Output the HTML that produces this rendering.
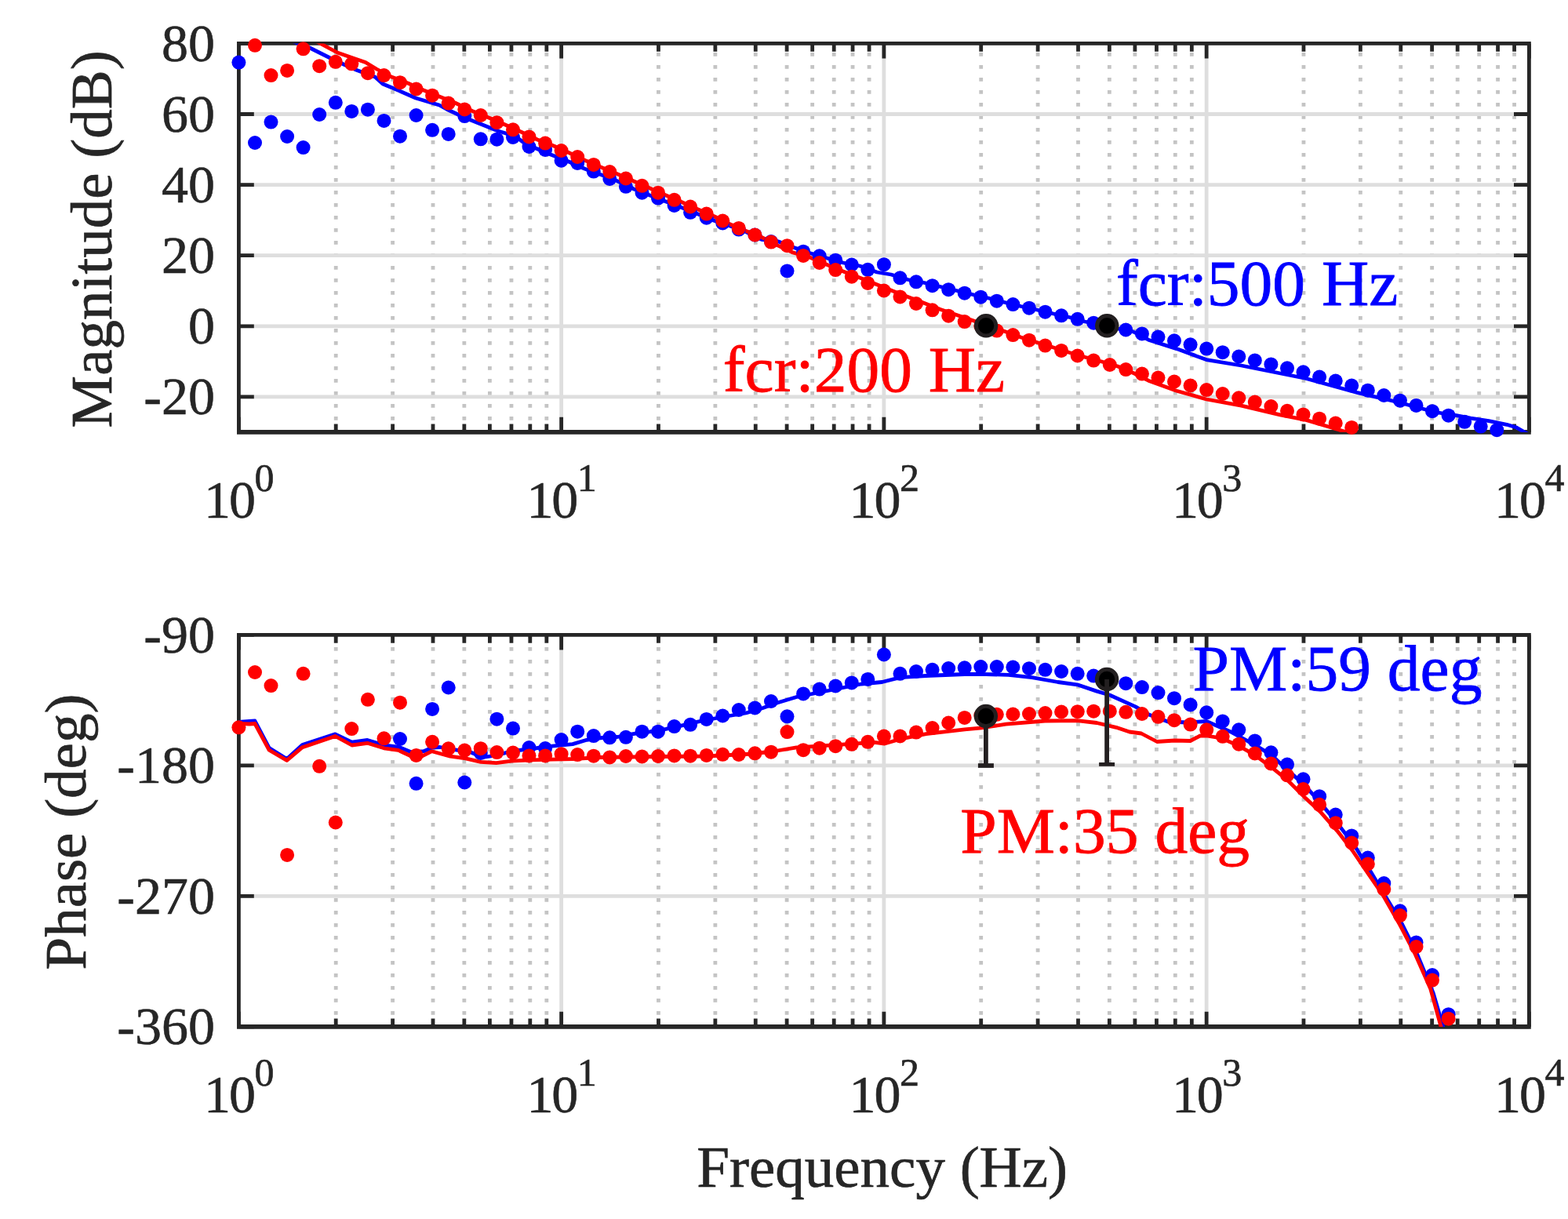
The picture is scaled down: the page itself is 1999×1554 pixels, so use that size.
<!DOCTYPE html>
<html><head><meta charset="utf-8"><title>Bode plot</title>
<style>html,body{margin:0;padding:0;background:#fff;width:1999px;height:1554px;overflow:hidden}</style>
</head><body>
<svg width="1999" height="1554" viewBox="0 0 1999 1554" style="display:block">
<rect width="1999" height="1554" fill="#fff"/>
<defs>
<clipPath id="c0"><rect x="304.4" y="55.4" width="1645.0" height="495.5"/></clipPath>
<clipPath id="c1"><rect x="304.4" y="809.4" width="1645.0" height="499.5000000000001"/></clipPath>
</defs>
<path d="M428.20 551.80V55.40M500.62 551.80V55.40M552.00 551.80V55.40M591.85 551.80V55.40M624.41 551.80V55.40M651.95 551.80V55.40M675.80 551.80V55.40M696.83 551.80V55.40M839.45 551.80V55.40M911.87 551.80V55.40M963.25 551.80V55.40M1003.10 551.80V55.40M1035.66 551.80V55.40M1063.20 551.80V55.40M1087.05 551.80V55.40M1108.08 551.80V55.40M1250.70 551.80V55.40M1323.12 551.80V55.40M1374.50 551.80V55.40M1414.35 551.80V55.40M1446.91 551.80V55.40M1474.45 551.80V55.40M1498.30 551.80V55.40M1519.33 551.80V55.40M1661.95 551.80V55.40M1734.37 551.80V55.40M1785.75 551.80V55.40M1825.60 551.80V55.40M1858.16 551.80V55.40M1885.70 551.80V55.40M1909.55 551.80V55.40M1930.58 551.80V55.40" stroke="#c4c4c4" stroke-width="4.8" stroke-dasharray="4.8 11.2" fill="none"/>
<path d="M715.65 55.40V550.90M1126.90 55.40V550.90M1538.15 55.40V550.90M304.40 145.50H1949.40M304.40 235.60H1949.40M304.40 325.70H1949.40M304.40 415.80H1949.40M304.40 505.90H1949.40" stroke="#dedede" stroke-width="4.8" fill="none"/>
<path d="M304.40 550.90v-19.2M304.40 55.40v19.2M715.65 550.90v-19.2M715.65 55.40v19.2M1126.90 550.90v-19.2M1126.90 55.40v19.2M1538.15 550.90v-19.2M1538.15 55.40v19.2M1949.40 550.90v-19.2M1949.40 55.40v19.2M428.20 550.90v-10.4M428.20 55.40v10.4M500.62 550.90v-10.4M500.62 55.40v10.4M552.00 550.90v-10.4M552.00 55.40v10.4M591.85 550.90v-10.4M591.85 55.40v10.4M624.41 550.90v-10.4M624.41 55.40v10.4M651.95 550.90v-10.4M651.95 55.40v10.4M675.80 550.90v-10.4M675.80 55.40v10.4M696.83 550.90v-10.4M696.83 55.40v10.4M839.45 550.90v-10.4M839.45 55.40v10.4M911.87 550.90v-10.4M911.87 55.40v10.4M963.25 550.90v-10.4M963.25 55.40v10.4M1003.10 550.90v-10.4M1003.10 55.40v10.4M1035.66 550.90v-10.4M1035.66 55.40v10.4M1063.20 550.90v-10.4M1063.20 55.40v10.4M1087.05 550.90v-10.4M1087.05 55.40v10.4M1108.08 550.90v-10.4M1108.08 55.40v10.4M1250.70 550.90v-10.4M1250.70 55.40v10.4M1323.12 550.90v-10.4M1323.12 55.40v10.4M1374.50 550.90v-10.4M1374.50 55.40v10.4M1414.35 550.90v-10.4M1414.35 55.40v10.4M1446.91 550.90v-10.4M1446.91 55.40v10.4M1474.45 550.90v-10.4M1474.45 55.40v10.4M1498.30 550.90v-10.4M1498.30 55.40v10.4M1519.33 550.90v-10.4M1519.33 55.40v10.4M1661.95 550.90v-10.4M1661.95 55.40v10.4M1734.37 550.90v-10.4M1734.37 55.40v10.4M1785.75 550.90v-10.4M1785.75 55.40v10.4M1825.60 550.90v-10.4M1825.60 55.40v10.4M1858.16 550.90v-10.4M1858.16 55.40v10.4M1885.70 550.90v-10.4M1885.70 55.40v10.4M1909.55 550.90v-10.4M1909.55 55.40v10.4M1930.58 550.90v-10.4M1930.58 55.40v10.4M304.40 55.40h19.4M1949.40 55.40h-19.4M304.40 145.50h19.4M1949.40 145.50h-19.4M304.40 235.60h19.4M1949.40 235.60h-19.4M304.40 325.70h19.4M1949.40 325.70h-19.4M304.40 415.80h19.4M1949.40 415.80h-19.4M304.40 505.90h19.4M1949.40 505.90h-19.4" stroke="#262626" stroke-width="4.8" fill="none"/>
<path d="M302.00 55.40H1951.80M304.40 55.40V550.90M1949.40 55.40V550.90" stroke="#262626" stroke-width="4.8" fill="none"/>
<path d="M302.00 550.90H1951.80" stroke="#262626" stroke-width="5.8" fill="none"/>
<text x="274" y="77.7" text-anchor="end" font-family="'Liberation Serif',serif" font-size="68" fill="#262626" stroke="#262626" stroke-width="0.6">80</text>
<text x="274" y="167.8" text-anchor="end" font-family="'Liberation Serif',serif" font-size="68" fill="#262626" stroke="#262626" stroke-width="0.6">60</text>
<text x="274" y="257.9" text-anchor="end" font-family="'Liberation Serif',serif" font-size="68" fill="#262626" stroke="#262626" stroke-width="0.6">40</text>
<text x="274" y="348.0" text-anchor="end" font-family="'Liberation Serif',serif" font-size="68" fill="#262626" stroke="#262626" stroke-width="0.6">20</text>
<text x="274" y="438.1" text-anchor="end" font-family="'Liberation Serif',serif" font-size="68" fill="#262626" stroke="#262626" stroke-width="0.6">0</text>
<text x="274" y="528.2" text-anchor="end" font-family="'Liberation Serif',serif" font-size="68" fill="#262626" stroke="#262626" stroke-width="0.6">-20</text>
<text x="260.1" y="659.7" font-family="'Liberation Serif',serif" font-size="68" fill="#262626" stroke="#262626" stroke-width="0.6">1<tspan dx="-2.2">0</tspan><tspan dx="-1.4" dy="-33.9" font-size="50">0</tspan></text>
<text x="671.4" y="659.7" font-family="'Liberation Serif',serif" font-size="68" fill="#262626" stroke="#262626" stroke-width="0.6">1<tspan dx="-2.2">0</tspan><tspan dx="-1.4" dy="-33.9" font-size="50">1</tspan></text>
<text x="1082.6" y="659.7" font-family="'Liberation Serif',serif" font-size="68" fill="#262626" stroke="#262626" stroke-width="0.6">1<tspan dx="-2.2">0</tspan><tspan dx="-1.4" dy="-33.9" font-size="50">2</tspan></text>
<text x="1493.9" y="659.7" font-family="'Liberation Serif',serif" font-size="68" fill="#262626" stroke="#262626" stroke-width="0.6">1<tspan dx="-2.2">0</tspan><tspan dx="-1.4" dy="-33.9" font-size="50">3</tspan></text>
<text x="1905.1" y="659.7" font-family="'Liberation Serif',serif" font-size="68" fill="#262626" stroke="#262626" stroke-width="0.6">1<tspan dx="-2.2">0</tspan><tspan dx="-1.4" dy="-33.9" font-size="50">4</tspan></text>
<path d="M428.20 1309.80V809.40M500.62 1309.80V809.40M552.00 1309.80V809.40M591.85 1309.80V809.40M624.41 1309.80V809.40M651.95 1309.80V809.40M675.80 1309.80V809.40M696.83 1309.80V809.40M839.45 1309.80V809.40M911.87 1309.80V809.40M963.25 1309.80V809.40M1003.10 1309.80V809.40M1035.66 1309.80V809.40M1063.20 1309.80V809.40M1087.05 1309.80V809.40M1108.08 1309.80V809.40M1250.70 1309.80V809.40M1323.12 1309.80V809.40M1374.50 1309.80V809.40M1414.35 1309.80V809.40M1446.91 1309.80V809.40M1474.45 1309.80V809.40M1498.30 1309.80V809.40M1519.33 1309.80V809.40M1661.95 1309.80V809.40M1734.37 1309.80V809.40M1785.75 1309.80V809.40M1825.60 1309.80V809.40M1858.16 1309.80V809.40M1885.70 1309.80V809.40M1909.55 1309.80V809.40M1930.58 1309.80V809.40" stroke="#c4c4c4" stroke-width="4.8" stroke-dasharray="4.8 11.2" fill="none"/>
<path d="M715.65 809.40V1308.90M1126.90 809.40V1308.90M1538.15 809.40V1308.90M304.40 975.90H1949.40M304.40 1142.40H1949.40" stroke="#dedede" stroke-width="4.8" fill="none"/>
<path d="M304.40 1308.90v-19.2M304.40 809.40v19.2M715.65 1308.90v-19.2M715.65 809.40v19.2M1126.90 1308.90v-19.2M1126.90 809.40v19.2M1538.15 1308.90v-19.2M1538.15 809.40v19.2M1949.40 1308.90v-19.2M1949.40 809.40v19.2M428.20 1308.90v-10.4M428.20 809.40v10.4M500.62 1308.90v-10.4M500.62 809.40v10.4M552.00 1308.90v-10.4M552.00 809.40v10.4M591.85 1308.90v-10.4M591.85 809.40v10.4M624.41 1308.90v-10.4M624.41 809.40v10.4M651.95 1308.90v-10.4M651.95 809.40v10.4M675.80 1308.90v-10.4M675.80 809.40v10.4M696.83 1308.90v-10.4M696.83 809.40v10.4M839.45 1308.90v-10.4M839.45 809.40v10.4M911.87 1308.90v-10.4M911.87 809.40v10.4M963.25 1308.90v-10.4M963.25 809.40v10.4M1003.10 1308.90v-10.4M1003.10 809.40v10.4M1035.66 1308.90v-10.4M1035.66 809.40v10.4M1063.20 1308.90v-10.4M1063.20 809.40v10.4M1087.05 1308.90v-10.4M1087.05 809.40v10.4M1108.08 1308.90v-10.4M1108.08 809.40v10.4M1250.70 1308.90v-10.4M1250.70 809.40v10.4M1323.12 1308.90v-10.4M1323.12 809.40v10.4M1374.50 1308.90v-10.4M1374.50 809.40v10.4M1414.35 1308.90v-10.4M1414.35 809.40v10.4M1446.91 1308.90v-10.4M1446.91 809.40v10.4M1474.45 1308.90v-10.4M1474.45 809.40v10.4M1498.30 1308.90v-10.4M1498.30 809.40v10.4M1519.33 1308.90v-10.4M1519.33 809.40v10.4M1661.95 1308.90v-10.4M1661.95 809.40v10.4M1734.37 1308.90v-10.4M1734.37 809.40v10.4M1785.75 1308.90v-10.4M1785.75 809.40v10.4M1825.60 1308.90v-10.4M1825.60 809.40v10.4M1858.16 1308.90v-10.4M1858.16 809.40v10.4M1885.70 1308.90v-10.4M1885.70 809.40v10.4M1909.55 1308.90v-10.4M1909.55 809.40v10.4M1930.58 1308.90v-10.4M1930.58 809.40v10.4M304.40 809.40h19.4M1949.40 809.40h-19.4M304.40 975.90h19.4M1949.40 975.90h-19.4M304.40 1142.40h19.4M1949.40 1142.40h-19.4M304.40 1308.90h19.4M1949.40 1308.90h-19.4" stroke="#262626" stroke-width="4.8" fill="none"/>
<path d="M302.00 809.40H1951.80M304.40 809.40V1308.90M1949.40 809.40V1308.90" stroke="#262626" stroke-width="4.8" fill="none"/>
<path d="M302.00 1308.90H1951.80" stroke="#262626" stroke-width="5.8" fill="none"/>
<text x="274" y="831.7" text-anchor="end" font-family="'Liberation Serif',serif" font-size="68" fill="#262626" stroke="#262626" stroke-width="0.6">-90</text>
<text x="274" y="998.2" text-anchor="end" font-family="'Liberation Serif',serif" font-size="68" fill="#262626" stroke="#262626" stroke-width="0.6">-180</text>
<text x="274" y="1164.7" text-anchor="end" font-family="'Liberation Serif',serif" font-size="68" fill="#262626" stroke="#262626" stroke-width="0.6">-270</text>
<text x="274" y="1331.2" text-anchor="end" font-family="'Liberation Serif',serif" font-size="68" fill="#262626" stroke="#262626" stroke-width="0.6">-360</text>
<text x="260.1" y="1417.7" font-family="'Liberation Serif',serif" font-size="68" fill="#262626" stroke="#262626" stroke-width="0.6">1<tspan dx="-2.2">0</tspan><tspan dx="-1.4" dy="-33.9" font-size="50">0</tspan></text>
<text x="671.4" y="1417.7" font-family="'Liberation Serif',serif" font-size="68" fill="#262626" stroke="#262626" stroke-width="0.6">1<tspan dx="-2.2">0</tspan><tspan dx="-1.4" dy="-33.9" font-size="50">1</tspan></text>
<text x="1082.6" y="1417.7" font-family="'Liberation Serif',serif" font-size="68" fill="#262626" stroke="#262626" stroke-width="0.6">1<tspan dx="-2.2">0</tspan><tspan dx="-1.4" dy="-33.9" font-size="50">2</tspan></text>
<text x="1493.9" y="1417.7" font-family="'Liberation Serif',serif" font-size="68" fill="#262626" stroke="#262626" stroke-width="0.6">1<tspan dx="-2.2">0</tspan><tspan dx="-1.4" dy="-33.9" font-size="50">3</tspan></text>
<text x="1905.1" y="1417.7" font-family="'Liberation Serif',serif" font-size="68" fill="#262626" stroke="#262626" stroke-width="0.6">1<tspan dx="-2.2">0</tspan><tspan dx="-1.4" dy="-33.9" font-size="50">4</tspan></text>
<g clip-path="url(#c0)" fill="none" stroke-linejoin="round" stroke-width="4.8">
<polyline points="340.0,40.0 378.0,54.5 395.0,61.0 420.0,73.5 438.0,82.0 455.0,89.5 478.0,98.0 488.0,107.0 505.0,114.0 530.0,125.0 560.0,134.0 570.0,139.5 584.0,146.0 600.0,153.0 620.0,161.0 635.0,167.0 645.0,170.0 660.0,176.0 668.0,182.0 683.0,189.0 702.0,197.0 725.0,206.0 745.0,215.0 767.0,223.0 787.5,231.0 808.0,241.0 828.5,249.0 849.0,257.0 870.0,265.0 890.0,273.0 911.0,281.5 932.0,288.5 952.0,296.0 971.0,305.4 992.0,307.8 1012.0,315.5 1033.0,322.8 1054.0,329.0 1075.0,335.0 1096.0,339.0 1118.0,347.0 1136.0,350.0 1157.5,356.5 1178.5,360.5 1199.0,365.5 1219.6,370.5 1240.0,375.5 1260.0,380.0 1281.0,385.5 1301.5,390.5 1322.0,395.0 1343.0,400.0 1363.5,404.5 1383.0,410.0 1404.0,414.0 1425.0,419.0 1445.0,423.0 1464.1,433.2 1500.0,444.6 1538.0,458.6 1582.5,466.0 1665.0,482.5 1731.0,500.7 1780.6,512.3 1830.0,525.5 1856.7,529.7 1875.0,533.2 1898.0,536.7 1921.0,541.3 1932.6,544.7 1943.0,550.5 1960.0,560.0" stroke="#0000ff"/>
<polyline points="385.0,43.0 405.6,54.0 430.0,67.0 450.0,74.0 466.0,79.5 480.0,88.0 499.0,98.0 520.0,106.0 540.0,115.0 560.0,123.0 580.0,131.0 602.0,141.5 623.0,150.0 644.0,159.0 664.0,168.0 685.0,178.0 706.0,186.0 726.0,195.0 746.0,204.5 767.0,213.5 787.5,222.0 808.0,231.0 828.5,240.0 849.0,249.0 870.0,258.0 890.0,267.0 911.0,276.0 930.0,285.5 950.0,294.0 971.0,302.4 992.0,313.2 1010.0,321.6 1032.8,328.2 1053.8,337.2 1075.0,346.0 1096.0,354.0 1116.0,362.0 1137.0,370.5 1157.5,378.5 1178.5,386.5 1199.0,394.5 1219.6,401.5 1240.0,408.5 1260.0,415.5 1281.0,422.5 1301.5,430.0 1322.0,436.5 1343.0,443.0 1363.5,449.5 1384.0,455.5 1404.6,461.0 1425.0,467.0 1446.0,476.0 1464.1,485.2 1500.0,498.2 1538.0,509.0 1582.5,517.2 1632.0,528.8 1665.0,535.4 1698.0,545.3 1714.6,550.2 1735.0,558.0" stroke="#ff0000"/>
</g>
<g fill="#0000ff"><circle cx="304.4" cy="79.6" r="9.0"/><circle cx="325.0" cy="182.0" r="9.0"/><circle cx="345.5" cy="155.6" r="9.0"/><circle cx="366.1" cy="174.0" r="9.0"/><circle cx="386.6" cy="188.1" r="9.0"/><circle cx="407.2" cy="146.0" r="9.0"/><circle cx="427.8" cy="130.8" r="9.0"/><circle cx="448.3" cy="141.9" r="9.0"/><circle cx="468.9" cy="139.7" r="9.0"/><circle cx="489.5" cy="153.9" r="9.0"/><circle cx="510.0" cy="173.7" r="9.0"/><circle cx="530.6" cy="147.0" r="9.0"/><circle cx="551.1" cy="165.8" r="9.0"/><circle cx="571.7" cy="170.9" r="9.0"/><circle cx="592.3" cy="148.1" r="9.0"/><circle cx="612.8" cy="177.3" r="9.0"/><circle cx="633.4" cy="177.7" r="9.0"/><circle cx="654.0" cy="175.0" r="9.0"/><circle cx="674.5" cy="187.0" r="9.0"/><circle cx="695.1" cy="191.0" r="9.0"/><circle cx="715.6" cy="204.7" r="9.0"/><circle cx="736.2" cy="208.0" r="9.0"/><circle cx="756.8" cy="218.6" r="9.0"/><circle cx="777.3" cy="227.9" r="9.0"/><circle cx="797.9" cy="237.8" r="9.0"/><circle cx="818.5" cy="245.7" r="9.0"/><circle cx="839.0" cy="252.6" r="9.0"/><circle cx="859.6" cy="262.0" r="9.0"/><circle cx="880.1" cy="270.8" r="9.0"/><circle cx="900.7" cy="277.7" r="9.0"/><circle cx="921.3" cy="284.5" r="9.0"/><circle cx="941.8" cy="292.6" r="9.0"/><circle cx="962.4" cy="299.5" r="9.0"/><circle cx="983.0" cy="308.1" r="9.0"/><circle cx="1003.5" cy="345.4" r="9.0"/><circle cx="1024.1" cy="320.7" r="9.0"/><circle cx="1044.7" cy="326.3" r="9.0"/><circle cx="1065.2" cy="331.7" r="9.0"/><circle cx="1085.8" cy="337.5" r="9.0"/><circle cx="1106.3" cy="343.8" r="9.0"/><circle cx="1126.9" cy="337.2" r="9.0"/><circle cx="1147.5" cy="354.3" r="9.0"/><circle cx="1168.0" cy="359.3" r="9.0"/><circle cx="1188.6" cy="364.2" r="9.0"/><circle cx="1209.2" cy="369.2" r="9.0"/><circle cx="1229.7" cy="373.7" r="9.0"/><circle cx="1250.3" cy="378.7" r="9.0"/><circle cx="1270.8" cy="383.7" r="9.0"/><circle cx="1291.4" cy="388.1" r="9.0"/><circle cx="1312.0" cy="392.7" r="9.0"/><circle cx="1332.5" cy="397.7" r="9.0"/><circle cx="1353.1" cy="402.3" r="9.0"/><circle cx="1373.7" cy="406.8" r="9.0"/><circle cx="1394.2" cy="411.7" r="9.0"/><circle cx="1414.8" cy="416.0" r="9.0"/><circle cx="1435.3" cy="420.5" r="9.0"/><circle cx="1455.9" cy="425.4" r="9.0"/><circle cx="1476.5" cy="429.5" r="9.0"/><circle cx="1497.0" cy="434.3" r="9.0"/><circle cx="1517.6" cy="439.3" r="9.0"/><circle cx="1538.2" cy="444.6" r="9.0"/><circle cx="1558.7" cy="449.2" r="9.0"/><circle cx="1579.3" cy="454.5" r="9.0"/><circle cx="1599.8" cy="459.4" r="9.0"/><circle cx="1620.4" cy="464.4" r="9.0"/><circle cx="1641.0" cy="469.3" r="9.0"/><circle cx="1661.5" cy="474.3" r="9.0"/><circle cx="1682.1" cy="480.6" r="9.0"/><circle cx="1702.7" cy="485.5" r="9.0"/><circle cx="1723.2" cy="491.6" r="9.0"/><circle cx="1743.8" cy="497.7" r="9.0"/><circle cx="1764.3" cy="504.0" r="9.0"/><circle cx="1784.9" cy="510.7" r="9.0"/><circle cx="1805.5" cy="516.9" r="9.0"/><circle cx="1826.0" cy="524.2" r="9.0"/><circle cx="1846.6" cy="529.7" r="9.0"/><circle cx="1867.2" cy="537.8" r="9.0"/><circle cx="1887.7" cy="543.6" r="9.0"/><circle cx="1908.3" cy="548.2" r="9.0"/></g>
<g fill="#ff0000"><circle cx="325.0" cy="57.8" r="9.0"/><circle cx="345.5" cy="96.1" r="9.0"/><circle cx="366.1" cy="89.9" r="9.0"/><circle cx="386.6" cy="62.3" r="9.0"/><circle cx="407.2" cy="84.2" r="9.0"/><circle cx="427.8" cy="78.8" r="9.0"/><circle cx="448.3" cy="81.3" r="9.0"/><circle cx="468.9" cy="93.2" r="9.0"/><circle cx="489.5" cy="96.1" r="9.0"/><circle cx="510.0" cy="105.2" r="9.0"/><circle cx="530.6" cy="113.5" r="9.0"/><circle cx="551.1" cy="121.7" r="9.0"/><circle cx="571.7" cy="131.6" r="9.0"/><circle cx="592.3" cy="139.5" r="9.0"/><circle cx="612.8" cy="147.0" r="9.0"/><circle cx="633.4" cy="156.2" r="9.0"/><circle cx="654.0" cy="165.3" r="9.0"/><circle cx="674.5" cy="174.4" r="9.0"/><circle cx="695.1" cy="182.6" r="9.0"/><circle cx="715.6" cy="192.0" r="9.0"/><circle cx="736.2" cy="200.0" r="9.0"/><circle cx="756.8" cy="209.9" r="9.0"/><circle cx="777.3" cy="219.0" r="9.0"/><circle cx="797.9" cy="227.5" r="9.0"/><circle cx="818.5" cy="236.8" r="9.0"/><circle cx="839.0" cy="245.7" r="9.0"/><circle cx="859.6" cy="254.8" r="9.0"/><circle cx="880.1" cy="263.5" r="9.0"/><circle cx="900.7" cy="272.6" r="9.0"/><circle cx="921.3" cy="281.5" r="9.0"/><circle cx="941.8" cy="290.9" r="9.0"/><circle cx="962.4" cy="299.5" r="9.0"/><circle cx="983.0" cy="308.6" r="9.0"/><circle cx="1003.5" cy="313.2" r="9.0"/><circle cx="1024.1" cy="325.9" r="9.0"/><circle cx="1044.7" cy="335.0" r="9.0"/><circle cx="1065.2" cy="344.1" r="9.0"/><circle cx="1085.8" cy="352.7" r="9.0"/><circle cx="1106.3" cy="360.9" r="9.0"/><circle cx="1126.9" cy="370.5" r="9.0"/><circle cx="1147.5" cy="378.4" r="9.0"/><circle cx="1168.0" cy="387.0" r="9.0"/><circle cx="1188.6" cy="395.3" r="9.0"/><circle cx="1209.2" cy="402.7" r="9.0"/><circle cx="1229.7" cy="410.1" r="9.0"/><circle cx="1250.3" cy="415.5" r="9.0"/><circle cx="1270.8" cy="421.6" r="9.0"/><circle cx="1291.4" cy="427.1" r="9.0"/><circle cx="1312.0" cy="433.7" r="9.0"/><circle cx="1332.5" cy="440.6" r="9.0"/><circle cx="1353.1" cy="446.9" r="9.0"/><circle cx="1373.7" cy="453.5" r="9.0"/><circle cx="1394.2" cy="459.6" r="9.0"/><circle cx="1414.8" cy="465.0" r="9.0"/><circle cx="1435.3" cy="471.1" r="9.0"/><circle cx="1455.9" cy="476.6" r="9.0"/><circle cx="1476.5" cy="481.5" r="9.0"/><circle cx="1497.0" cy="486.5" r="9.0"/><circle cx="1517.6" cy="491.5" r="9.0"/><circle cx="1538.2" cy="497.1" r="9.0"/><circle cx="1558.7" cy="502.0" r="9.0"/><circle cx="1579.3" cy="507.3" r="9.0"/><circle cx="1599.8" cy="512.6" r="9.0"/><circle cx="1620.4" cy="518.0" r="9.0"/><circle cx="1641.0" cy="523.8" r="9.0"/><circle cx="1661.5" cy="528.4" r="9.0"/><circle cx="1682.1" cy="533.7" r="9.0"/><circle cx="1702.7" cy="539.5" r="9.0"/><circle cx="1723.2" cy="544.9" r="9.0"/></g>
<g clip-path="url(#c1)" fill="none" stroke-linejoin="round" stroke-width="4.8">
<polyline points="304.4,920.5 318.0,919.5 325.0,919.0 343.2,953.5 365.7,967.5 385.5,949.5 427.4,935.8 448.6,946.1 468.4,943.5 489.5,949.9 509.0,952.5 524.6,959.0 540.2,957.7 550.6,953.2 561.0,952.5 580.6,955.8 600.0,959.0 615.7,965.5 632.6,962.9 652.0,957.7 678.0,954.5 704.0,951.2 730.0,948.6 748.0,943.3 767.6,940.5 787.0,939.5 807.0,935.6 828.0,932.8 849.0,929.3 868.5,925.1 889.5,920.2 910.5,916.0 930.0,912.5 951.0,909.0 972.0,902.7 990.8,896.0 1015.6,888.5 1098.0,872.0 1124.5,869.5 1147.6,863.7 1180.6,861.5 1230.0,859.5 1249.5,859.3 1285.8,860.4 1315.6,863.7 1348.6,869.5 1373.3,872.8 1398.1,881.1 1414.6,886.0 1447.6,900.9 1464.1,910.8 1488.9,920.0 1514.0,921.0 1538.2,919.5 1570.8,933.8 1599.1,949.4 1620.4,962.1 1641.6,981.9 1662.8,1000.4 1684.1,1024.4 1705.3,1049.9 1726.8,1078.0 1746.9,1110.2 1766.9,1143.7 1787.0,1177.2 1807.1,1217.3 1827.2,1265.9 1838.9,1306.0 1842.0,1318.0" stroke="#0000ff"/>
<polyline points="304.4,922.3 318.0,923.0 325.0,922.5 343.2,956.3 365.7,969.4 385.5,952.7 427.4,938.5 448.6,950.0 468.4,947.3 489.5,953.8 507.7,956.4 522.0,963.0 529.8,968.1 550.6,957.7 574.0,964.2 593.6,966.8 613.0,971.4 632.6,972.7 652.0,970.1 678.0,968.8 704.0,968.1 730.0,967.5 765.0,965.5 840.0,964.5 900.0,964.0 960.0,961.0 990.8,957.0 1015.6,952.9 1114.6,946.3 1127.8,948.0 1147.6,942.2 1180.6,935.6 1230.0,929.8 1249.5,928.1 1282.5,923.2 1332.1,919.0 1373.3,918.7 1398.1,921.5 1422.9,927.3 1440.0,933.0 1455.0,935.0 1475.0,945.5 1497.5,944.0 1517.5,944.5 1530.0,938.0 1538.2,938.0 1556.6,940.9 1579.3,950.8 1599.1,962.1 1620.4,977.7 1641.6,994.7 1662.8,1015.9 1684.1,1035.8 1705.3,1059.8 1724.0,1084.0 1741.8,1110.2 1763.6,1142.0 1783.7,1177.2 1803.8,1215.6 1823.8,1260.8 1837.2,1309.4 1840.0,1318.0" stroke="#ff0000"/>
</g>
<g fill="#0000ff"><circle cx="510.0" cy="942.0" r="9.0"/><circle cx="530.6" cy="998.8" r="9.0"/><circle cx="551.1" cy="903.9" r="9.0"/><circle cx="571.7" cy="876.5" r="9.0"/><circle cx="592.3" cy="997.5" r="9.0"/><circle cx="612.8" cy="960.0" r="9.0"/><circle cx="633.4" cy="916.7" r="9.0"/><circle cx="654.0" cy="928.6" r="9.0"/><circle cx="674.5" cy="953.0" r="9.0"/><circle cx="695.1" cy="954.1" r="9.0"/><circle cx="715.6" cy="943.1" r="9.0"/><circle cx="736.2" cy="932.7" r="9.0"/><circle cx="756.8" cy="938.1" r="9.0"/><circle cx="777.3" cy="940.3" r="9.0"/><circle cx="797.9" cy="939.8" r="9.0"/><circle cx="818.5" cy="932.7" r="9.0"/><circle cx="839.0" cy="932.7" r="9.0"/><circle cx="859.6" cy="926.1" r="9.0"/><circle cx="880.1" cy="923.8" r="9.0"/><circle cx="900.7" cy="916.9" r="9.0"/><circle cx="921.3" cy="912.5" r="9.0"/><circle cx="941.8" cy="905.0" r="9.0"/><circle cx="962.4" cy="902.5" r="9.0"/><circle cx="983.0" cy="894.0" r="9.0"/><circle cx="1003.5" cy="913.3" r="9.0"/><circle cx="1024.1" cy="884.4" r="9.0"/><circle cx="1044.7" cy="878.6" r="9.0"/><circle cx="1065.2" cy="874.5" r="9.0"/><circle cx="1085.8" cy="870.4" r="9.0"/><circle cx="1106.3" cy="865.9" r="9.0"/><circle cx="1126.9" cy="834.5" r="9.0"/><circle cx="1147.5" cy="858.8" r="9.0"/><circle cx="1168.0" cy="856.0" r="9.0"/><circle cx="1188.6" cy="853.8" r="9.0"/><circle cx="1209.2" cy="852.0" r="9.0"/><circle cx="1229.7" cy="851.3" r="9.0"/><circle cx="1250.3" cy="850.0" r="9.0"/><circle cx="1270.8" cy="850.0" r="9.0"/><circle cx="1291.4" cy="850.5" r="9.0"/><circle cx="1312.0" cy="852.2" r="9.0"/><circle cx="1332.5" cy="853.8" r="9.0"/><circle cx="1353.1" cy="856.0" r="9.0"/><circle cx="1373.7" cy="858.8" r="9.0"/><circle cx="1394.2" cy="861.6" r="9.0"/><circle cx="1414.8" cy="866.0" r="9.0"/><circle cx="1435.3" cy="871.2" r="9.0"/><circle cx="1455.9" cy="876.1" r="9.0"/><circle cx="1476.5" cy="883.1" r="9.0"/><circle cx="1497.0" cy="890.2" r="9.0"/><circle cx="1517.6" cy="898.4" r="9.0"/><circle cx="1538.2" cy="908.3" r="9.0"/><circle cx="1558.7" cy="919.4" r="9.0"/><circle cx="1579.3" cy="930.3" r="9.0"/><circle cx="1599.8" cy="944.4" r="9.0"/><circle cx="1620.4" cy="959.3" r="9.0"/><circle cx="1641.0" cy="974.6" r="9.0"/><circle cx="1661.5" cy="993.3" r="9.0"/><circle cx="1682.1" cy="1015.2" r="9.0"/><circle cx="1702.7" cy="1038.6" r="9.0"/><circle cx="1723.2" cy="1065.4" r="9.0"/><circle cx="1743.8" cy="1093.5" r="9.0"/><circle cx="1764.3" cy="1126.1" r="9.0"/><circle cx="1784.9" cy="1161.3" r="9.0"/><circle cx="1805.5" cy="1201.4" r="9.0"/><circle cx="1826.0" cy="1243.0" r="9.0"/><circle cx="1846.6" cy="1293.2" r="9.0"/></g>
<g fill="#ff0000"><circle cx="304.4" cy="927.3" r="9.0"/><circle cx="325.0" cy="857.0" r="9.0"/><circle cx="345.5" cy="874.1" r="9.0"/><circle cx="366.1" cy="1089.9" r="9.0"/><circle cx="386.6" cy="858.8" r="9.0"/><circle cx="407.2" cy="976.8" r="9.0"/><circle cx="427.8" cy="1048.5" r="9.0"/><circle cx="448.3" cy="929.1" r="9.0"/><circle cx="468.9" cy="891.8" r="9.0"/><circle cx="489.5" cy="941.3" r="9.0"/><circle cx="510.0" cy="895.7" r="9.0"/><circle cx="530.6" cy="962.9" r="9.0"/><circle cx="551.1" cy="945.8" r="9.0"/><circle cx="571.7" cy="954.3" r="9.0"/><circle cx="592.3" cy="956.6" r="9.0"/><circle cx="612.8" cy="954.2" r="9.0"/><circle cx="633.4" cy="959.1" r="9.0"/><circle cx="654.0" cy="959.6" r="9.0"/><circle cx="674.5" cy="963.4" r="9.0"/><circle cx="695.1" cy="963.4" r="9.0"/><circle cx="715.6" cy="961.2" r="9.0"/><circle cx="736.2" cy="962.1" r="9.0"/><circle cx="756.8" cy="963.7" r="9.0"/><circle cx="777.3" cy="965.4" r="9.0"/><circle cx="797.9" cy="964.0" r="9.0"/><circle cx="818.5" cy="964.5" r="9.0"/><circle cx="839.0" cy="964.0" r="9.0"/><circle cx="859.6" cy="963.4" r="9.0"/><circle cx="880.1" cy="963.7" r="9.0"/><circle cx="900.7" cy="962.9" r="9.0"/><circle cx="921.3" cy="961.8" r="9.0"/><circle cx="941.8" cy="962.0" r="9.0"/><circle cx="962.4" cy="960.3" r="9.0"/><circle cx="983.0" cy="958.7" r="9.0"/><circle cx="1003.5" cy="933.1" r="9.0"/><circle cx="1024.1" cy="956.2" r="9.0"/><circle cx="1044.7" cy="953.7" r="9.0"/><circle cx="1065.2" cy="951.2" r="9.0"/><circle cx="1085.8" cy="948.8" r="9.0"/><circle cx="1106.3" cy="945.8" r="9.0"/><circle cx="1126.9" cy="938.5" r="9.0"/><circle cx="1147.5" cy="938.5" r="9.0"/><circle cx="1168.0" cy="933.6" r="9.0"/><circle cx="1188.6" cy="928.1" r="9.0"/><circle cx="1209.2" cy="921.5" r="9.0"/><circle cx="1229.7" cy="914.9" r="9.0"/><circle cx="1250.3" cy="912.0" r="9.0"/><circle cx="1270.8" cy="910.8" r="9.0"/><circle cx="1291.4" cy="910.5" r="9.0"/><circle cx="1312.0" cy="910.0" r="9.0"/><circle cx="1332.5" cy="909.1" r="9.0"/><circle cx="1353.1" cy="907.5" r="9.0"/><circle cx="1373.7" cy="907.2" r="9.0"/><circle cx="1394.2" cy="906.7" r="9.0"/><circle cx="1414.8" cy="906.7" r="9.0"/><circle cx="1435.3" cy="907.8" r="9.0"/><circle cx="1455.9" cy="910.0" r="9.0"/><circle cx="1476.5" cy="913.8" r="9.0"/><circle cx="1497.0" cy="918.2" r="9.0"/><circle cx="1517.6" cy="923.6" r="9.0"/><circle cx="1538.2" cy="930.3" r="9.0"/><circle cx="1558.7" cy="938.8" r="9.0"/><circle cx="1579.3" cy="948.7" r="9.0"/><circle cx="1599.8" cy="960.4" r="9.0"/><circle cx="1620.4" cy="973.5" r="9.0"/><circle cx="1641.0" cy="988.3" r="9.0"/><circle cx="1661.5" cy="1006.0" r="9.0"/><circle cx="1682.1" cy="1025.8" r="9.0"/><circle cx="1702.7" cy="1049.2" r="9.0"/><circle cx="1723.2" cy="1074.5" r="9.0"/><circle cx="1743.8" cy="1101.5" r="9.0"/><circle cx="1764.3" cy="1133.6" r="9.0"/><circle cx="1784.9" cy="1167.1" r="9.0"/><circle cx="1805.5" cy="1207.0" r="9.0"/><circle cx="1826.0" cy="1249.6" r="9.0"/><circle cx="1846.6" cy="1298.7" r="9.0"/></g>
<circle cx="1257.1" cy="415.3" r="12.7" fill="#000" stroke="#231f20" stroke-width="5"/>
<circle cx="1411.3" cy="415.3" r="12.7" fill="#000" stroke="#231f20" stroke-width="5"/>
<circle cx="1256.9" cy="913.0" r="12.7" fill="#000" stroke="#231f20" stroke-width="5"/>
<path d="M1256.9 925V976.0" stroke="#231f20" stroke-width="5.8" fill="none"/>
<path d="M1246.9 976.0H1266.9" stroke="#231f20" stroke-width="5.7" fill="none"/>
<circle cx="1411.1" cy="866.0" r="12.7" fill="#000" stroke="#231f20" stroke-width="5"/>
<path d="M1411.1 866.0V974.4" stroke="#231f20" stroke-width="5.8" fill="none"/>
<path d="M1401.1 974.4H1421.1" stroke="#231f20" stroke-width="4.8" fill="none"/>
<text x="1423.0" y="389" font-family="'Liberation Serif',serif" font-size="83.5" fill="#0000ff" stroke="#0000ff" stroke-width="0.8">fcr:500 Hz</text>
<text x="921.8" y="498.6" font-family="'Liberation Serif',serif" font-size="83.5" fill="#ff0000" stroke="#ff0000" stroke-width="0.8">fcr:200 Hz</text>
<text x="1520.6" y="880" font-family="'Liberation Serif',serif" font-size="83.5" fill="#0000ff" stroke="#0000ff" stroke-width="0.8">PM:59 deg</text>
<text x="1224.2" y="1086.6" font-family="'Liberation Serif',serif" font-size="83.5" fill="#ff0000" stroke="#ff0000" stroke-width="0.8">PM:35 deg</text>
<text x="1124.7" y="1513.1" text-anchor="middle" font-family="'Liberation Serif',serif" font-size="75" fill="#262626" stroke="#262626" stroke-width="0.7">Frequency (Hz)</text>
<text transform="translate(142,304.9) rotate(-90)" text-anchor="middle" font-family="'Liberation Serif',serif" font-size="75" fill="#262626" stroke="#262626" stroke-width="0.7">Magnitude (dB)</text>
<text transform="translate(108.9,1060.6) rotate(-90)" text-anchor="middle" font-family="'Liberation Serif',serif" font-size="75" fill="#262626" stroke="#262626" stroke-width="0.7">Phase (deg)</text>
</svg>
</body></html>
